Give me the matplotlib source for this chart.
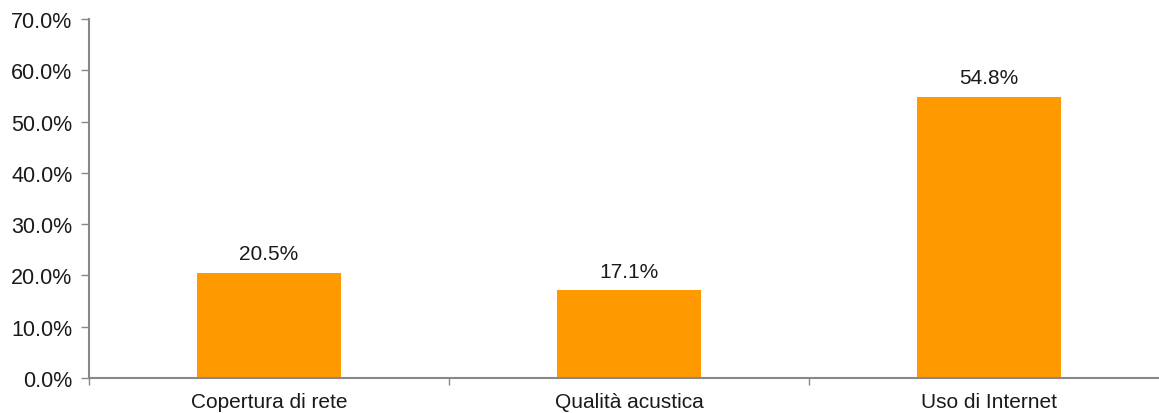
import matplotlib.pyplot as plt
from matplotlib.ticker import FixedLocator, FuncFormatter

categories = ['Copertura di rete', 'Qualità acustica', 'Uso di Internet']
values = [20.5, 17.1, 54.8]
labels = ['20.5%', '17.1%', '54.8%']
y_ticks = [0, 10, 20, 30, 40, 50, 60, 70]

BAR_COLOR = '#FF9900'
AXIS_COLOR = '#888888'
TEXT_COLOR = '#1a1a1a'

plt.rcParams['font.family'] = ['Liberation Sans', 'DejaVu Sans']

W, H = 1159, 414
fig = plt.figure(figsize=(W / 100, H / 100), dpi=100)
ax = fig.add_axes([89 / W, 35 / H, (W - 89) / W, 359 / H])

x = list(range(len(categories)))
ax.bar(x, values, width=0.4, color=BAR_COLOR, zorder=2)

for xi, v, lab in zip(x, values, labels):
    ax.annotate(lab, (xi, v), xytext=(0, 7), textcoords='offset points',
                ha='center', va='bottom', fontsize=15, color=TEXT_COLOR)

ax.set_xlim(-0.5, -0.5 + (W - 89) / 360)
ax.set_ylim(0, 70)
ax.set_yticks(y_ticks)
ax.yaxis.set_major_formatter(FuncFormatter(lambda v, p: f'{v:.1f}%'))

ax.set_xticks(x)
ax.set_xticklabels(categories)
ax.xaxis.set_minor_locator(FixedLocator([-0.5, 0.5, 1.5, 2.5]))
ax.tick_params(axis='x', which='major', length=0, pad=10,
               labelsize=15, labelcolor=TEXT_COLOR)
ax.tick_params(axis='x', which='minor', length=5, width=1, color=AXIS_COLOR,
               direction='out')
ax.tick_params(axis='y', length=6, width=1, color=AXIS_COLOR, pad=6,
               labelsize=15.5, labelcolor=TEXT_COLOR)

for side in ['top', 'right']:
    ax.spines[side].set_visible(False)
for side in ['left', 'bottom']:
    ax.spines[side].set_color(AXIS_COLOR)
    ax.spines[side].set_linewidth(1.5)

fig.savefig('out.png', dpi=100, facecolor='white')
